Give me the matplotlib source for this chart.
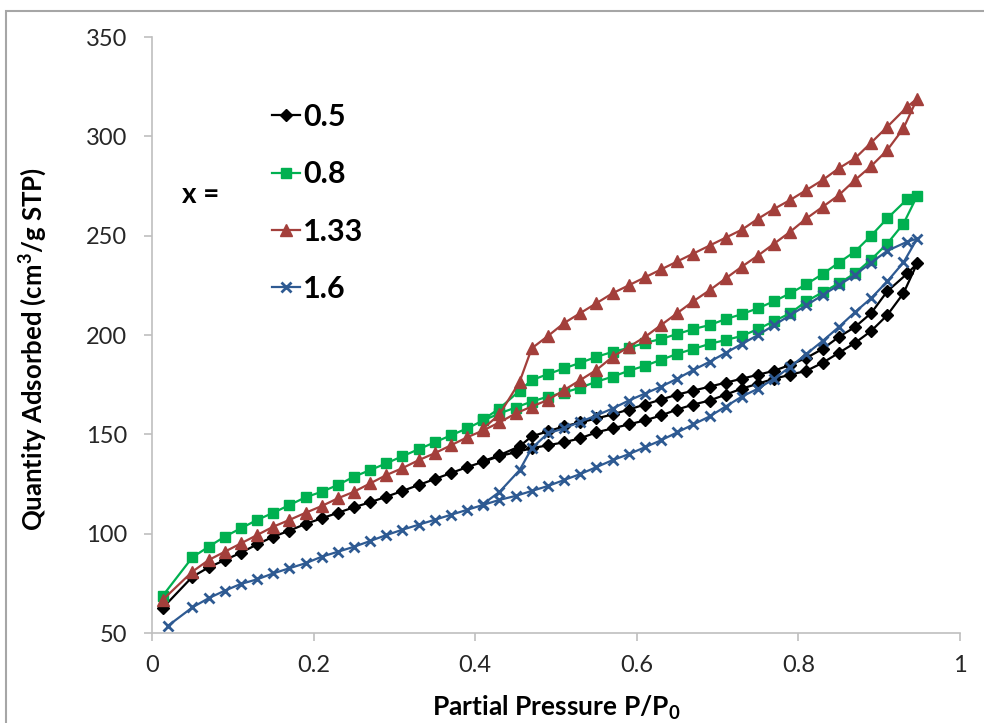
import matplotlib
matplotlib.use("Agg")
import matplotlib.pyplot as plt
from matplotlib.patches import Rectangle

plt.rcParams['font.family'] = ['Lato', 'DejaVu Sans']
plt.rcParams['mathtext.fontset'] = 'custom'
plt.rcParams['mathtext.rm'] = 'Lato'
plt.rcParams['mathtext.bf'] = 'Lato:bold'

# relative pressure of the adsorption points (shared by the samples)
P_ADS = [0.013, 0.05, 0.07, 0.09, 0.11, 0.13, 0.15, 0.17, 0.19, 0.21, 0.23, 0.25,
         0.27, 0.29, 0.31, 0.33, 0.35, 0.37, 0.39, 0.41, 0.43, 0.45, 0.47, 0.49,
         0.51, 0.53, 0.55, 0.57, 0.59, 0.61, 0.63, 0.65, 0.67, 0.69, 0.71, 0.73,
         0.75, 0.77, 0.79, 0.81, 0.83, 0.85, 0.87, 0.89, 0.91, 0.93, 0.947]
P_ADS_16 = [0.02] + P_ADS[1:]
# relative pressure of the desorption points
P_DES = [0.935, 0.91, 0.89, 0.87, 0.85, 0.83, 0.81, 0.79, 0.77, 0.75, 0.73, 0.71,
         0.69, 0.67, 0.65, 0.63, 0.61, 0.59, 0.57, 0.55, 0.53, 0.51, 0.49, 0.47,
         0.455, 0.43, 0.41]

labels = ['0.5', '0.8', '1.33', '1.6']

ads_05 = [62.5, 78.3, 83, 86.7, 90.4, 94.6, 98.5, 101.5, 104.9, 107.7, 110.5, 113.3,
          115.8, 118.6, 121.5, 124.5, 127.5, 130.5, 133.5, 136.2, 139, 141, 143, 144.5,
          146, 148, 151, 153, 155, 157, 159.5, 162.5, 165, 167, 170, 173,
          175.5, 178, 180, 182, 186, 191, 196, 202, 210, 221, 236]
des_05 = [231, 222, 211, 204, 199, 193, 188.5, 185, 182, 180, 178, 176,
          174, 172, 170, 167.5, 165, 162.5, 160, 158, 156, 154, 151.5, 149,
          144, 139.5, 136.5]

ads_08 = [68.6, 88.1, 93.4, 98.5, 102.7, 106.9, 110.5, 114.4, 118.3, 121.1, 124.5, 128.7,
          132, 135.4, 139, 142.5, 146, 149.5, 153, 157, 160.5, 163.5, 166.5, 169,
          171, 173.5, 176.5, 179, 182, 184.5, 187.5, 190.5, 193, 195.5, 197.5, 199.5,
          203, 207, 211, 217, 221.5, 226, 231, 238, 246, 256, 270]
des_08 = [268.5, 258.7, 250, 242, 236.4, 230.7, 225.6, 221, 217, 213.5, 210.5, 208,
          205, 203, 200.5, 198, 196, 193.5, 191.5, 189, 186, 183.2, 180.3, 177.3,
          172, 163, 157.5]

ads_133 = [66.6, 80.9, 86.7, 90.9, 95.1, 99.3, 103.5, 106.9, 110.5, 113.9, 117.8, 121.1,
           125.3, 129.5, 133, 137, 140.5, 144.5, 148.5, 152, 156, 160.5, 164, 167.3,
           172.3, 177.3, 182.4, 189, 194, 199, 205, 211, 217, 222.5, 228.5, 234.4,
           240, 246, 252, 258.7, 264.5, 270.4, 278, 285, 293.1, 304, 319]
des_133 = [315, 304.8, 296.8, 288.9, 283.9, 278, 273, 268, 263.5, 258.5, 253, 249,
           245, 241, 237, 233, 229, 225, 221, 216, 211, 206, 199.5, 193.3,
           176.5, 160, 153]

ads_16 = [53.7, 62.9, 67.5, 71.3, 74.7, 77.0, 80.0, 82.6, 85.1, 88.4, 90.9, 93.4,
          96.3, 99.3, 102, 104.5, 107, 109.5, 112, 114.5, 117, 119, 121.5, 124,
          127, 130, 133.5, 137, 140, 143.5, 147, 151, 155, 159, 164, 169,
          173, 178, 184, 190.5, 197, 204, 211.5, 218.5, 227, 236.5, 248.5]
des_16 = [247, 242.4, 236.4, 230.2, 225.1, 220.1, 215, 210, 205, 200, 195.5, 191,
          186.5, 182.4, 178, 174, 170.5, 167, 163, 159.5, 156.3, 153, 150.5, 143,
          132, 121, 115]

x_ticks = [0, 0.2, 0.4, 0.6, 0.8, 1]
x_tick_labels = ['0', '0.2', '0.4', '0.6', '0.8', '1']
y_ticks = [50, 100, 150, 200, 250, 300, 350]

series = [
    (P_ADS, ads_05, des_05, '#000000', 'D', 6.5),
    (P_ADS, ads_08, des_08, '#00b050', 's', 7.5),
    (P_ADS, ads_133, des_133, '#a33f3b', '^', 8),
    (P_ADS_16, ads_16, des_16, '#2e5a92', 'x', 7.5),
]

fig = plt.figure(figsize=(9.84, 7.23), dpi=100)
ax = fig.add_axes([152 / 984, 1 - 633 / 723, 808 / 984, 596 / 723])

# chart area border
fig.patches.append(Rectangle((6 / 984, -0.05), 1.1, 1 - 11 / 723 + 0.05,
                             transform=fig.transFigure, fill=False,
                             edgecolor='#a6a6a6', linewidth=1.5))

for (p_ads, ads, des, color, marker, ms), lab in zip(series, labels):
    xs = p_ads + P_DES
    ys = ads + des
    ax.plot(xs, ys, color=color, marker=marker, markersize=ms, linewidth=1.6,
            markeredgewidth=2 if marker == 'x' else 1, label=lab)

ax.set_xlim(0, 1)
ax.set_ylim(50, 350)
ax.set_xticks(x_ticks)
ax.set_xticklabels(x_tick_labels)
ax.set_yticks(y_ticks)

for side in ['top', 'right']:
    ax.spines[side].set_visible(False)
for side in ['left', 'bottom']:
    ax.spines[side].set_color('#bfbfbf')
    ax.spines[side].set_linewidth(1.2)

ax.tick_params(axis='both', direction='out', length=6, width=1.2, color='#bfbfbf',
               labelsize=17, labelcolor='#262626')
ax.tick_params(axis='y', pad=12)
ax.tick_params(axis='x', pad=10)

ax.set_xlabel(r'Partial Pressure P/P$_\mathbf{0}$', fontsize=19, fontweight='bold')
ax.xaxis.set_label_coords(0.5, (633 - 693) / 596)
ax.set_ylabel(r'Quantity Adsorbed (cm$^\mathbf{3}$/g STP)', fontsize=18.5, fontweight='bold')
ax.yaxis.set_label_coords((49 - 152) / 808, (633 - 349) / 596)

ax.legend(loc='upper left', bbox_to_anchor=(272 / 984, 1 - 103 / 723),
          bbox_transform=fig.transFigure, frameon=False, borderpad=0,
          borderaxespad=0, handlelength=0.92, handletextpad=0.1,
          labelspacing=0.96, prop={'size': 22, 'weight': 'bold'})
fig.text(201 / 984, 1 - 195 / 723, 'x =', fontsize=20, fontweight='bold',
         ha='center', va='center')

fig.savefig('out.png', dpi=100)
